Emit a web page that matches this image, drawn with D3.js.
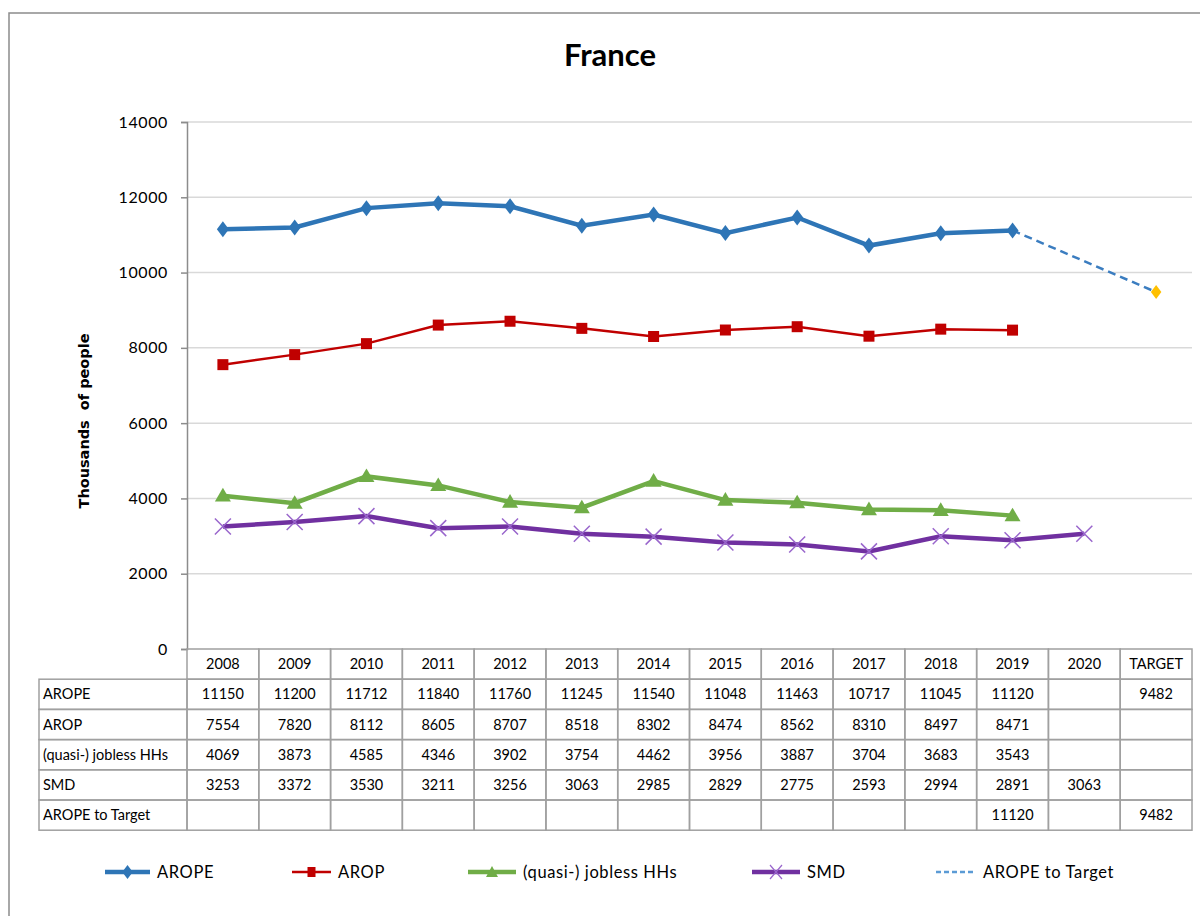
<!DOCTYPE html>
<html><head><meta charset="utf-8">
<script src="https://cdn.jsdelivr.net/npm/d3@7"></script>
<style>body{margin:0;background:#fff}svg{display:block}text{font-family:Lato,"Open Sans",sans-serif}</style>
</head><body>
<svg id="c" width="1200" height="916"></svg>
<script>
const categories = ["2008","2009","2010","2011","2012","2013","2014","2015","2016","2017","2018","2019","2020","TARGET"];
const arope   = [11150,11200,11712,11840,11760,11245,11540,11048,11463,10717,11045,11120,null,9482];
const arop    = [7554,7820,8112,8605,8707,8518,8302,8474,8562,8310,8497,8471,null,null];
const jobless = [4069,3873,4585,4346,3902,3754,4462,3956,3887,3704,3683,3543,null,null];
const smd     = [3253,3372,3530,3211,3256,3063,2985,2829,2775,2593,2994,2891,3063,null];
const target  = [null,null,null,null,null,null,null,null,null,null,null,11120,null,9482];
const yTicks  = [0,2000,4000,6000,8000,10000,12000,14000];

const svg = d3.select("#c");
svg.append("rect").attr("x",9).attr("y",13).attr("width",1200).attr("height",920)
  .attr("fill","none").attr("stroke","#8c8c8c").attr("stroke-width",1.5);

const L=187,R=1192,T=122,B=649;
const x = d3.scaleBand().domain(categories).range([L,R]);
const y = d3.scaleLinear().domain([0,14000]).range([B,T]);

svg.append("text").attr("x",610).attr("y",66).attr("text-anchor","middle")
  .attr("font-size",31).attr("font-weight","bold").attr("fill","#000").text("France");

svg.append("g").selectAll("line").data(yTicks.filter(d=>d>0)).join("line")
  .attr("x1",L).attr("x2",R).attr("y1",d=>y(d)).attr("y2",d=>y(d))
  .attr("stroke","#d9d9d9").attr("stroke-width",1.5);

const ya = svg.append("g").attr("transform",`translate(${L},0)`)
  .call(d3.axisLeft(y).tickValues(yTicks).tickSize(6).tickPadding(13).tickFormat(d3.format("d")));
ya.select(".domain").attr("stroke","#8c8c8c").attr("stroke-width",1.5);
ya.selectAll(".tick line").attr("stroke","#8c8c8c").attr("stroke-width",1.5);
ya.selectAll(".tick text").attr("font-size",16).attr("letter-spacing",0.6).attr("fill","#000");

svg.append("text").attr("transform","translate(89,421) rotate(-90)").attr("text-anchor","middle")
  .style("font-family","'DejaVu Sans',sans-serif").attr("font-size",14.5).attr("font-weight","bold")
  .attr("fill","#000").style("white-space","pre").text("Thousands  of people");

const cx = d => x(d)+x.bandwidth()/2;
function pts(arr){return categories.map((c,i)=>({c,v:arr[i]})).filter(d=>d.v!=null);}
const line = d3.line().x(d=>cx(d.c)).y(d=>y(d.v));

svg.append("path").attr("d",line(pts(target))).attr("fill","none")
  .attr("stroke","#3b7dc0").attr("stroke-width",2.5).attr("stroke-dasharray","8,5");

const smdData = pts(smd);
svg.append("path").attr("d",line(smdData)).attr("fill","none").attr("stroke","#7030a0").attr("stroke-width",4.5);
const jobData = pts(jobless);
svg.append("path").attr("d",line(jobData)).attr("fill","none").attr("stroke","#70ad47").attr("stroke-width",4.5);
const aropData = pts(arop);
svg.append("path").attr("d",line(aropData)).attr("fill","none").attr("stroke","#c00000").attr("stroke-width",2.5);
const aropeData = pts(arope).filter(d=>d.c!=="TARGET");
svg.append("path").attr("d",line(aropeData)).attr("fill","none").attr("stroke","#2e75b6").attr("stroke-width",4.5);

const diamond = (g,px,py,s,col)=>g.append("path").attr("d",`M${px},${py-s}L${px+s*0.75},${py}L${px},${py+s}L${px-s*0.75},${py}Z`).attr("fill",col);
const gm = svg.append("g");
smdData.forEach(d=>{const px=cx(d.c),py=y(d.v),s=8;
  gm.append("path").attr("d",`M${px-s},${py-s}L${px+s},${py+s}M${px-s},${py+s}L${px+s},${py-s}`)
   .attr("stroke","#9966cc").attr("stroke-width",1.5);});
jobData.forEach(d=>{const px=cx(d.c),py=y(d.v),s=8;
  gm.append("path").attr("d",`M${px},${py-s}L${px+s},${py+s*0.7}L${px-s},${py+s*0.7}Z`).attr("fill","#70ad47");});
aropData.forEach(d=>{const px=cx(d.c),py=y(d.v);
  gm.append("rect").attr("x",px-5.5).attr("y",py-5.5).attr("width",11).attr("height",11).attr("fill","#c00000");});
aropeData.forEach(d=>diamond(gm,cx(d.c),y(d.v),8,"#2e75b6"));
diamond(gm,cx("TARGET"),y(arope[13]),7,"#ffc000");

const rowH=30.2, labL=39;
const rows=[["AROPE",arope],["AROP",arop],["(quasi-) jobless HHs",jobless],["SMD",smd],["AROPE to Target",target]];
const tg = svg.append("g");
const bc="#a0a0a0";
categories.forEach(c=>{
  tg.append("rect").attr("x",x(c)).attr("y",B).attr("width",x.bandwidth()).attr("height",rowH)
    .attr("fill","none").attr("stroke",bc).attr("stroke-width",1.5);
  tg.append("text").attr("x",cx(c)).attr("y",B+rowH/2+5).attr("text-anchor","middle")
    .attr("font-size",14.5).attr("fill","#000").text(c);
});
rows.forEach((r,ri)=>{
  const ry=B+rowH*(ri+1);
  tg.append("rect").attr("x",labL).attr("y",ry).attr("width",L-labL).attr("height",rowH)
    .attr("fill","none").attr("stroke",bc).attr("stroke-width",1.5);
  tg.append("text").attr("x",labL+4).attr("y",ry+rowH/2+5).attr("font-size",14.5).attr("fill","#000").text(r[0]);
  categories.forEach((c,i)=>{
    tg.append("rect").attr("x",x(c)).attr("y",ry).attr("width",x.bandwidth()).attr("height",rowH)
      .attr("fill","none").attr("stroke",bc).attr("stroke-width",1.5);
    if(r[1][i]!=null) tg.append("text").attr("x",cx(c)).attr("y",ry+rowH/2+5).attr("text-anchor","middle")
      .attr("font-size",14.5).attr("fill","#000").text(r[1][i]);
  });
});

const ly=872;
const lg=svg.append("g");
const legend=[
 {name:"AROPE",x1:105,x2:150,col:"#2e75b6",w:4.5,m:"diamond"},
 {name:"AROP",x1:292,x2:331,col:"#c00000",w:2.5,m:"square"},
 {name:"(quasi-) jobless HHs",x1:468,x2:516,col:"#70ad47",w:4.5,m:"tri"},
 {name:"SMD",x1:752,x2:800,col:"#7030a0",w:4.5,m:"x"},
 {name:"AROPE to Target",x1:936,x2:976,col:"#5b9bd5",w:2.5,m:"dash"}
];
legend.forEach(it=>{
  const l=lg.append("line").attr("x1",it.x1).attr("x2",it.x2).attr("y1",ly).attr("y2",ly)
    .attr("stroke",it.col).attr("stroke-width",it.w);
  if(it.m==="dash") l.attr("stroke-dasharray","5,3");
  const mx=(it.x1+it.x2)/2;
  if(it.m==="diamond") diamond(lg,mx,ly,7,it.col);
  if(it.m==="square") lg.append("rect").attr("x",mx-4).attr("y",ly-5).attr("width",8).attr("height",10).attr("fill",it.col);
  if(it.m==="tri") lg.append("path").attr("d",`M${mx},${ly-6}L${mx+6},${ly+5}L${mx-6},${ly+5}Z`).attr("fill",it.col);
  if(it.m==="x") lg.append("path").attr("d",`M${mx-6},${ly-7}L${mx+6},${ly+7}M${mx-6},${ly+7}L${mx+6},${ly-7}`).attr("stroke","#9966cc").attr("stroke-width",1.2);
  lg.append("text").attr("x",it.x2+7).attr("y",ly+6).attr("font-size",16.5).attr("letter-spacing",0.6).attr("fill","#000").text(it.name);
});
</script>
</body></html>
